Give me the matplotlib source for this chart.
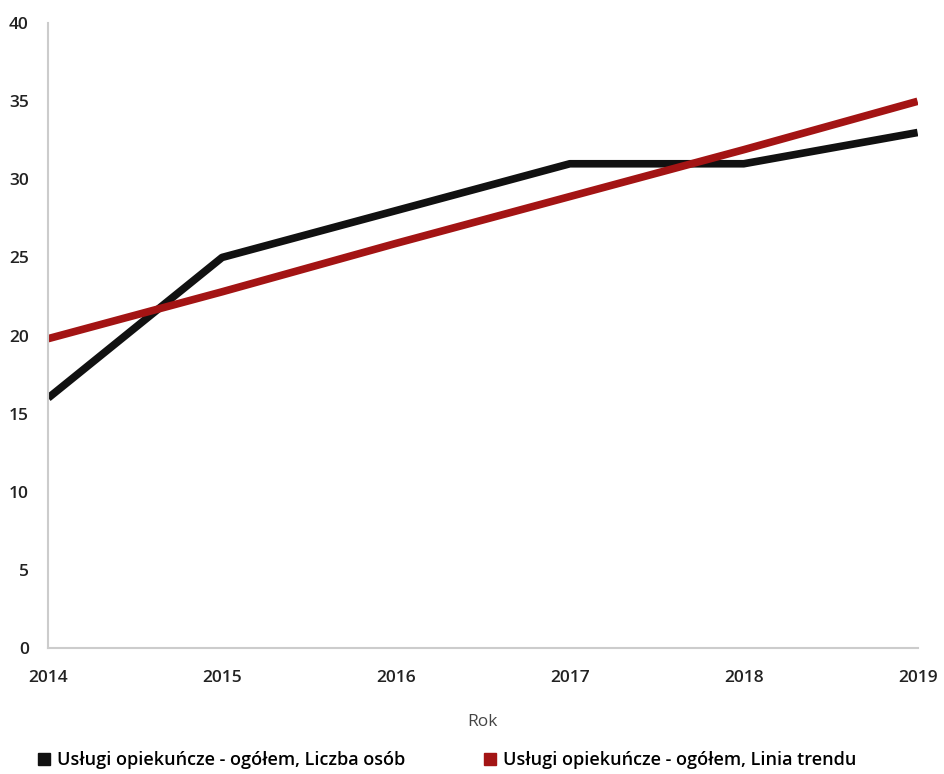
import matplotlib.pyplot as plt
from matplotlib.lines import Line2D

plt.rcParams['font.family'] = ['Open Sans', 'DejaVu Sans']

# --------------- Data -----------------
years = [2014, 2015, 2016, 2017, 2018, 2019]
liczba_osob = [16, 25, 28, 31, 31, 33]
linia_trendu = [19.8, 22.8, 25.9, 28.9, 31.9, 35.0]
y_ticks = [0, 5, 10, 15, 20, 25, 30, 35, 40]

black = "#111111"
red = "#a31414"

fig = plt.figure(figsize=(9.45, 7.74), dpi=100)
ax = fig.add_axes([0.051, 0.163, 0.920, 0.807])

ax.plot(years, liczba_osob, color=black, lw=5.5, solid_capstyle="butt")
ax.plot(years, linia_trendu, color=red, lw=5.5, solid_capstyle="butt")

ax.set_xlim(2014, 2019)
ax.set_ylim(0, 40)
ax.set_xticks(years)
ax.set_yticks(y_ticks)
ax.tick_params(length=0, labelsize=12.5, labelcolor="#222222")
for lab in ax.get_xticklabels() + ax.get_yticklabels():
    lab.set_fontweight("semibold")
ax.tick_params(axis="y", pad=14)
ax.tick_params(axis="x", pad=16)

for s in ["top", "right"]:
    ax.spines[s].set_visible(False)
for s in ["left", "bottom"]:
    ax.spines[s].set_color("#cccccc")
    ax.spines[s].set_linewidth(1.5)

ax.set_xlabel("Rok", fontsize=12.5, color="#444444", labelpad=20)

handles = [
    Line2D([], [], marker="s", ls="none", color=black, markersize=9),
    Line2D([], [], marker="s", ls="none", color=red, markersize=9),
]
labels = ["Usługi opiekuńcze - ogółem, Liczba osób",
          "Usługi opiekuńcze - ogółem, Linia trendu"]
fig.legend(handles, labels, loc="lower left", bbox_to_anchor=(0.02, -0.015),
           ncol=2, frameon=False, fontsize=13, handletextpad=0.2,
           columnspacing=4.2, handlelength=1.0,
           prop={"weight": "semibold", "size": 13})

fig.savefig("out.png", dpi=100)
